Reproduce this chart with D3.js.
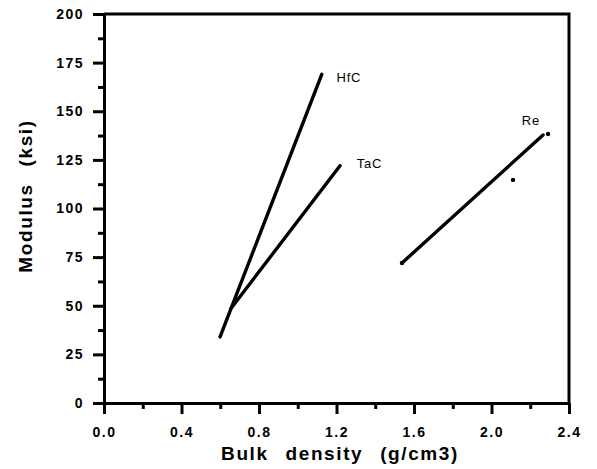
<!DOCTYPE html>
<html>
<head>
<meta charset="utf-8">
<script src="https://cdn.jsdelivr.net/npm/d3@7"></script>
<style>
  body { margin: 0; background: #fff; }
  svg { display: block; font-family: "Liberation Sans", Arial, sans-serif; }
</style>
</head>
<body>
<script>
// data
var hfc = [[0.599, 34], [1.124, 169]];
var tac = [[0.656, 48.7], [1.218, 122]];
var re = [[1.538, 72], [2.266, 137.8]];
var reDots = [[1.538, 72], [2.292, 138.3], [2.111, 114.7]];
var seriesLabels = [
  {name: "HfC", at: [1.2, 167.6]},
  {name: "TaC", at: [1.304, 123.4]},
  {name: "Re", at: [2.156, 145.5]}
];
var xTicks = [0, 0.4, 0.8, 1.2, 1.6, 2.0, 2.4];
var xMinor = [0.2, 0.6, 1.0, 1.4, 1.8, 2.2];
var yTicks = [0, 25, 50, 75, 100, 125, 150, 175, 200];
var yMinor = [12.5, 37.5, 62.5, 87.5, 112.5, 137.5, 162.5, 187.5];

var W = 597, H = 469;
var margin = {top: 14, right: 28, bottom: 66, left: 104};
var width = W - margin.left - margin.right,
    height = H - margin.top - margin.bottom;

var x = d3.scaleLinear().domain([0, 2.4]).range([0, width]);
var y = d3.scaleLinear().domain([0, 200]).range([height, 0]);

var svg = d3.select("body").append("svg")
    .attr("width", W)
    .attr("height", H);

var g = svg.append("g")
    .attr("transform", "translate(" + margin.left + "," + margin.top + ")");

// frame (top and right edges)
g.append("path")
    .attr("d", "M0,0H" + width + "V" + height)
    .attr("fill", "none")
    .attr("stroke", "#000")
    .attr("stroke-width", 3);

// minor ticks
g.append("g")
    .attr("transform", "translate(0," + height + ")")
    .call(d3.axisBottom(x).tickValues(xMinor).tickSize(6).tickFormat(""))
    .call(function(s) { s.select(".domain").remove(); s.selectAll("line").attr("stroke-width", 3); });

g.append("g")
    .call(d3.axisLeft(y).tickValues(yMinor).tickSize(6).tickFormat(""))
    .call(function(s) { s.select(".domain").remove(); s.selectAll("line").attr("stroke-width", 3); });

// main axes
var xg = g.append("g")
    .attr("transform", "translate(0," + height + ")")
    .call(d3.axisBottom(x).tickValues(xTicks).tickSize(11).tickSizeOuter(0).tickPadding(13).tickFormat(d3.format(".1f")));

var yg = g.append("g")
    .call(d3.axisLeft(y).tickValues(yTicks).tickSize(11).tickSizeOuter(0).tickPadding(9));

[xg, yg].forEach(function(a) {
  a.select(".domain").attr("stroke-width", 3);
  a.selectAll("line").attr("stroke-width", 3);
  a.selectAll("text")
      .attr("font-size", 14)
      .attr("font-weight", "bold")
      .attr("letter-spacing", 1.5)
      .attr("fill", "#000");
});

// axis titles
svg.append("text")
    .attr("x", 340)
    .attr("y", 460)
    .attr("text-anchor", "middle")
    .attr("font-size", 19)
    .attr("font-weight", "bold")
    .attr("letter-spacing", 1.6)
    .attr("word-spacing", 10)
    .text("Bulk density (g/cm3)");

svg.append("text")
    .attr("transform", "translate(32,196) rotate(-90)")
    .attr("text-anchor", "middle")
    .attr("font-size", 19)
    .attr("font-weight", "bold")
    .attr("letter-spacing", 1.6)
    .attr("word-spacing", 10)
    .text("Modulus (ksi)");

// lines
var line = d3.line()
    .x(function(d) { return x(d[0]); })
    .y(function(d) { return y(d[1]); });

g.selectAll(".series")
    .data([hfc, tac, re])
  .enter().append("path")
    .attr("class", "series")
    .attr("d", line)
    .attr("fill", "none")
    .attr("stroke", "#000")
    .attr("stroke-width", 3.4)
    .attr("stroke-linecap", "round");

g.selectAll(".dot")
    .data(reDots)
  .enter().append("circle")
    .attr("class", "dot")
    .attr("cx", function(d) { return x(d[0]); })
    .attr("cy", function(d) { return y(d[1]); })
    .attr("r", 2.2);

g.selectAll(".lbl")
    .data(seriesLabels)
  .enter().append("text")
    .attr("class", "lbl")
    .attr("x", function(d) { return x(d.at[0]); })
    .attr("y", function(d) { return y(d.at[1]); })
    .attr("dy", "0.35em")
    .attr("font-size", 13)
    .attr("letter-spacing", 0.8)
    .text(function(d) { return d.name; });
</script>
</body>
</html>
